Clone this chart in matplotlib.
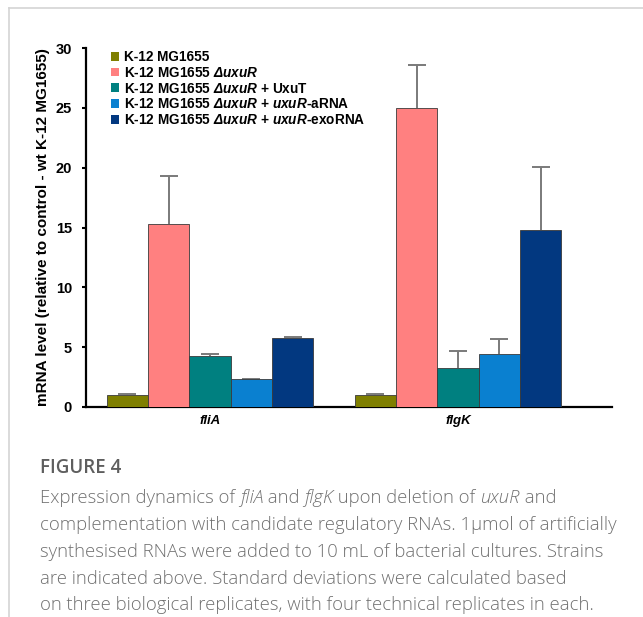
import numpy as np
import matplotlib
matplotlib.use("Agg")
import matplotlib.pyplot as plt
from matplotlib.patches import Patch
from matplotlib.lines import Line2D

plt.rcParams['font.family'] = ['Liberation Sans', 'DejaVu Sans']
plt.rcParams['mathtext.fontset'] = 'custom'
plt.rcParams['mathtext.rm'] = 'Liberation Sans:bold'
plt.rcParams['mathtext.bf'] = 'Liberation Sans:bold'
plt.rcParams['mathtext.it'] = 'Liberation Sans:bold:italic'
plt.rcParams['mathtext.bfit'] = 'Liberation Sans:bold:italic'

genes = ['fliA', 'flgK']
strains = ['K-12 MG1655',
           r'K-12 MG1655 $\mathbfit{\Delta uxuR}$',
           r'K-12 MG1655 $\mathbfit{\Delta uxuR}$ + UxuT',
           r'K-12 MG1655 $\mathbfit{\Delta uxuR}$ + $\mathbfit{uxuR}$-aRNA',
           r'K-12 MG1655 $\mathbfit{\Delta uxuR}$ + $\mathbfit{uxuR}$-exoRNA']
colors = ['#7f7f00', '#ff8080', '#008080', '#0a80d0', '#023880']
values = [[1.0, 1.0],
          [15.3, 25.0],
          [4.25, 3.25],
          [2.3, 4.4],
          [5.75, 14.8]]
errors = [[0.12, 0.07],
          [4.0, 3.6],
          [0.22, 1.4],
          [0.06, 1.25],
          [0.06, 5.25]]
yticks = [0, 5, 10, 15, 20, 25, 30]

W, H = 643, 617
fig = plt.figure(figsize=(W/100, H/100), dpi=100)

def fx(px): return px / W
def fy(py): return 1 - py / H

# page frame lines
fig.add_artist(Line2D([fx(9), fx(643)], [fy(7.5), fy(7.5)], color='#d4d4d4', lw=1.2))
fig.add_artist(Line2D([fx(9), fx(9)], [fy(7.5), fy(617)], color='#d4d4d4', lw=1.2))

AX_L, AX_R = 86, 612
ax = fig.add_axes([fx(AX_L), fy(407), fx(AX_R) - fx(AX_L), fy(48) - fy(407)])
x = np.arange(len(genes))
bw = 0.1665
n = len(strains)
for i in range(n):
    xi = x + (i - (n - 1) / 2) * bw
    ax.bar(xi, values[i], width=bw, color=colors[i], edgecolor='#3a3a3a',
           linewidth=0.6, zorder=3, label=strains[i])
    eb = ax.errorbar(xi, values[i], yerr=[np.zeros(len(genes)), errors[i]],
                     fmt='none', ecolor='#7a7a7a', elinewidth=1.4,
                     capsize=6.5, capthick=1.4, zorder=2)
    caps = eb[1]
    if len(caps) > 1:
        caps[0].set_visible(False)

ax.set_xlim(-0.5, (AX_R - 210) / 248)
ax.set_ylim(0, 30)
ax.set_yticks(yticks)
ax.set_yticklabels([str(t) for t in yticks], fontsize=10.5, fontweight='bold')
ax.tick_params(axis='y', direction='out', length=3, width=1.5, pad=7)
ax.set_xticks(x)
ax.set_xticklabels(genes, fontsize=9.5, fontweight='bold', fontstyle='italic')
ax.tick_params(axis='x', length=0, pad=6)
for s in ['top', 'right']:
    ax.spines[s].set_visible(False)
ax.spines['left'].set_linewidth(1.6)
ax.spines['bottom'].set_linewidth(1.6)
ax.set_ylabel('mRNA level (relative to control - wt K-12 MG1655)',
              fontsize=11, fontweight='bold')
ax.yaxis.set_label_coords((50 - AX_L) / (AX_R - AX_L), 0.5)

handles = [Patch(facecolor=c, edgecolor='none') for c in colors]
leg = ax.legend(handles, strains, loc='upper left',
                bbox_to_anchor=(fx(111), fy(50)), bbox_transform=fig.transFigure,
                frameon=False, fontsize=9.8, handlelength=0.6, handleheight=0.6,
                handletextpad=0.37, labelspacing=0.13, borderaxespad=0, borderpad=0)
for t in leg.get_texts():
    t.set_fontweight('bold')

# caption
cap_font = ['Open Sans', 'DejaVu Sans']
cap_color = '#707070'
fig.text(fx(40), fy(468), 'FIGURE 4', fontsize=13.5, color='#5e5e5e',
         family=cap_font, va='center', ha='left', fontweight='semibold')

lines = [
    [('Expression dynamics of ', 'normal'), ('fliA', 'italic'), (' and ', 'normal'),
     ('flgK', 'italic'), (' upon deletion of ', 'normal'), ('uxuR', 'italic'), (' and', 'normal')],
    [('complementation with candidate regulatory RNAs. 1µmol of artificially', 'normal')],
    [('synthesised RNAs were added to 10 mL of bacterial cultures. Strains', 'normal')],
    [('are indicated above. Standard deviations were calculated based', 'normal')],
    [('on three biological replicates, with four technical replicates in each.', 'normal')],
]
line_y = [498, 525, 552, 579, 605]
renderer = fig.canvas.get_renderer()
# fit caption size so the second line spans the measured width
probe = fig.text(0, 0, lines[1][0][0], fontsize=10, family=cap_font, fontweight='light')
pw = probe.get_window_extent(renderer=renderer).width
probe.remove()
cap_size = 10 * (618 - 40) / pw
for segs, py in zip(lines, line_y):
    xpos = fx(40)
    for txt, style in segs:
        t = fig.text(xpos, fy(py), txt, fontsize=cap_size, color=cap_color,
                     family=cap_font, style=style, va='center', ha='left',
                     fontweight='light')
        bb = t.get_window_extent(renderer=renderer)
        xpos += bb.width / W

fig.savefig('out.png', dpi=100)
